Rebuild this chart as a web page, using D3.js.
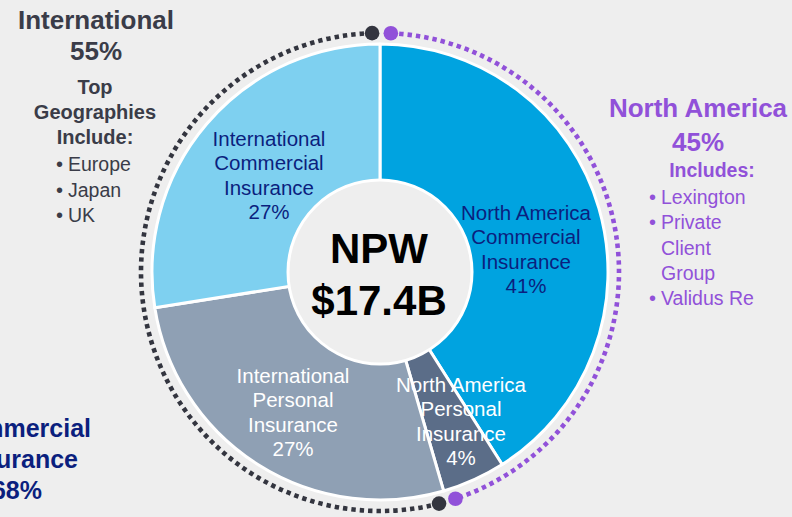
<!DOCTYPE html>
<html><head><meta charset="utf-8">
<script src="https://cdn.jsdelivr.net/npm/d3@7"></script>
<style>
html,body{margin:0;padding:0;background:#eeeeee;}
svg{display:block;font-family:"Liberation Sans",Arial,sans-serif;}
</style></head>
<body>
<svg id="c" width="792" height="517"></svg>
<script>
// ---- data ----
const segments = ["North America Commercial Insurance","North America Personal Insurance","International Personal Insurance","International Commercial Insurance"];
const segmentLines = [["North America","Commercial","Insurance","41%"],["North America","Personal","Insurance","4%"],["International","Personal","Insurance","27%"],["International","Commercial","Insurance","27%"]];
const shares = [41, 4.5, 27, 27.5];
const regions = ["North America","International"];
const regionShares = ["45%","55%"];
const intlGeographies = ["Europe","Japan","UK"];
const naIncludes = [["Lexington"],["Private","Client","Group"],["Validus Re"]];
const commercialLines = ["Commercial","Insurance","68%"];
const centerLines = ["NPW","$17.4B"];

// ---- layout / style ----
const W=792,H=517, cx=380, cy=272, R=228, r0=92, rDot=239;
const colors=["#00a3e0","#5b6d88","#8fa0b4","#7ed0f0"];
const labelColors=["#0b1f7e","#ffffff","#ffffff","#0b1f7e"];
const labelPos=[[526,212],[461,384],[293,375],[269,138]];
const purple="#9151d9", dark="#33353f", navy="#0b1f7e";

const svg=d3.select("#c");
const g=svg.append("g").attr("transform",`translate(${cx},${cy})`);
const pie=d3.pie().sort(null).value(d=>d)(shares);
const arc=d3.arc().innerRadius(0).outerRadius(R);
g.selectAll("path.s").data(pie).join("path").attr("class","s")
 .attr("d",arc).attr("fill",(d,i)=>colors[i]).attr("stroke","#fff").attr("stroke-width",3).attr("stroke-linejoin","round");
g.append("circle").attr("r",r0).attr("fill","#eeeeee").attr("stroke","#fff").attr("stroke-width",3);

// dotted region arcs
const deg=Math.PI/180;
const naEnd=pie[1].endAngle;
function dotted(a0,a1,col){
  const p=d3.path(); 
  p.arc(0,0,rDot,a0-Math.PI/2,a1-Math.PI/2,false);
  g.append("path").attr("d",p.toString()).attr("fill","none").attr("stroke",col)
   .attr("stroke-width",4.6).attr("stroke-dasharray","4.4 4");
  [a0,a1].forEach(a=>g.append("circle").attr("cx",rDot*Math.sin(a)).attr("cy",-rDot*Math.cos(a)).attr("r",7.3).attr("fill",col));
}
dotted(2.6*deg, naEnd-2.2*deg, purple);
dotted(naEnd+1.9*deg, 2*Math.PI-1.9*deg, dark);

// slice labels
labelPos.forEach((p,i)=>{
  const t=svg.append("text").attr("text-anchor","middle").attr("font-size",20.5).attr("fill",labelColors[i]);
  segmentLines[i].forEach((s,k)=>t.append("tspan").attr("x",p[0]).attr("y",p[1]+k*24.6).attr("dominant-baseline","central").text(s));
});

// center
centerLines.forEach((s,k)=>svg.append("text").attr("x",cx-1).attr("y",248+k*52).attr("text-anchor","middle")
  .attr("dominant-baseline","central").attr("font-size",42).attr("font-weight","bold").attr("fill","#000").text(s));

// International block
function txt(x,y,s,o){const t=svg.append("text").attr("x",x).attr("y",y).attr("dominant-baseline","central").text(s);
  Object.entries(o).forEach(([k,v])=>t.attr(k,v)); return t;}
txt(96,20,regions[1],{"text-anchor":"middle","font-size":26,"font-weight":"bold",fill:"#3a3c48"});
txt(96,51,regionShares[1],{"text-anchor":"middle","font-size":26,"font-weight":"bold",fill:"#3a3c48"});
["Top","Geographies","Include:"].forEach((s,k)=>txt(95,87+k*25,s,{"text-anchor":"middle","font-size":20,"font-weight":"bold",fill:"#3a3c48"}));
intlGeographies.forEach((s,k)=>{
  txt(56,164+k*25.7,"•",{"font-size":20,fill:"#3a3c48"});
  txt(68,164+k*25.7,s,{"font-size":19.5,fill:"#3a3c48"});
});

// North America block
txt(698,108,regions[0],{"text-anchor":"middle","font-size":26,"font-weight":"bold",fill:purple});
txt(698,142,regionShares[0],{"text-anchor":"middle","font-size":26,"font-weight":"bold",fill:purple});
txt(712,170,"Includes:",{"text-anchor":"middle","font-size":19.5,"font-weight":"bold",fill:purple});
let ly=197;
naIncludes.forEach(item=>{
  txt(649,ly,"•",{"font-size":20,fill:purple});
  item.forEach(s=>{txt(661,ly,s,{"font-size":19.5,fill:purple}); ly+=25.3;});
});

// Commercial block (clipped at left, as in the reference)
const cEnds=[91,78,42];
commercialLines.forEach((s,k)=>txt(cEnds[k],428+k*31,s,{"text-anchor":"end","font-size":25,"font-weight":"bold",fill:navy}));
</script>
</body></html>
